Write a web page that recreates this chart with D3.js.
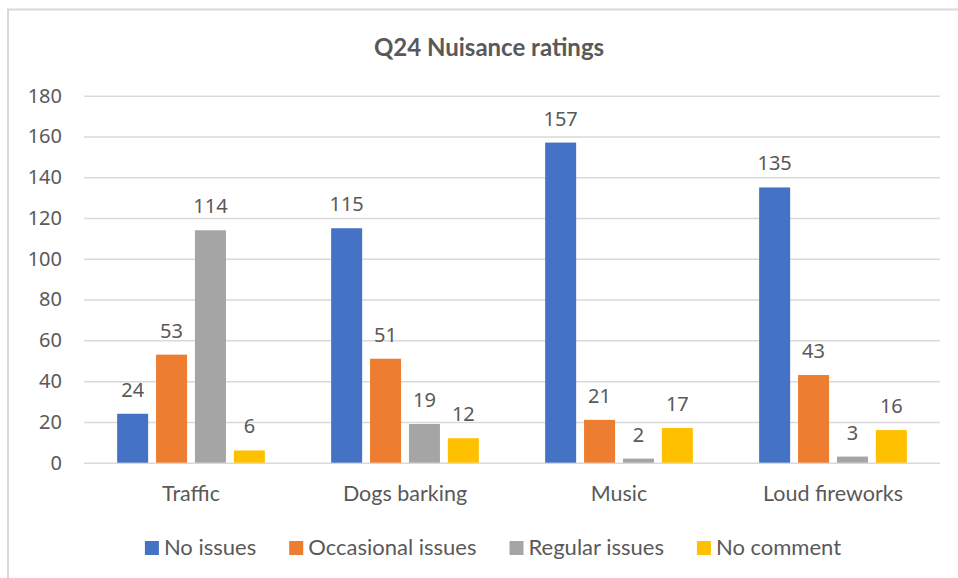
<!DOCTYPE html>
<html>
<head>
<meta charset="utf-8">
<script src="https://cdn.jsdelivr.net/npm/d3@7"></script>
<style>
	body { margin: 0; background: #fff; }
	svg { display: block; }
</style>
</head>
<body>
<div id="chart"></div>
<script>

//data
const categories = ["Traffic", "Dogs barking", "Music", "Loud fireworks"];
const seriesNames = ["No issues", "Occasional issues", "Regular issues", "No comment"];
const noIssues = [24, 115, 157, 135];
const occasionalIssues = [53, 51, 21, 43];
const regularIssues = [114, 19, 2, 3];
const noComment = [6, 12, 17, 16];
const yTicks = [0, 20, 40, 60, 80, 100, 120, 140, 160, 180];

const seriesValues = [noIssues, occasionalIssues, regularIssues, noComment];

//sizing
const width = 958;
const height = 578;
const textColor = "#595959";
const gridColor = "#d9d9d9";
const labelFont = "Lato, 'Open Sans', sans-serif";
const numberFont = "'Noto Sans', 'Open Sans', sans-serif";

let color = d3.scaleOrdinal()
	.domain(seriesNames)
	.range(["#4472c4", "#ed7d31", "#a5a5a5", "#ffc000"]);

let svg = d3.select("#chart")
	.append("svg")
	.attr("width", width)
	.attr("height", height);

//chart area frame (runs past the right and bottom edges)
svg.append("rect")
	.attr("x", 8)
	.attr("y", 9.5)
	.attr("width", 963)
	.attr("height", 600)
	.attr("fill", "none")
	.attr("stroke", gridColor)
	.attr("stroke-width", 2);

//title
svg.append("text")
	.attr("x", 489)
	.attr("y", 56)
	.attr("text-anchor", "middle")
	.attr("font-family", labelFont)
	.attr("font-weight", "bold")
	.attr("font-size", 24)
	.attr("fill", textColor)
	.text("Q24 Nuisance ratings");

//scales
let y = d3.scaleLinear()
	.domain([0, 180])
	.range([462.7, 95.7]);

let x0 = d3.scaleBand()
	.domain(categories)
	.range([84, 940]);

let x1 = d3.scaleBand()
	.domain(seriesNames)
	.range([0, x0.bandwidth()])
	.paddingInner(0.203)
	.paddingOuter(0.852);

//gridlines + tick labels
let yAxis = svg.append("g")
	.attr("transform", "translate(84,0)")
	.call(d3.axisLeft(y).tickValues(yTicks).tickSize(-(940 - 84)).tickPadding(22));

yAxis.select(".domain").remove();
yAxis.selectAll(".tick line")
	.attr("stroke", gridColor)
	.attr("stroke-width", 1.5);
yAxis.selectAll(".tick text")
	.attr("fill", textColor)
	.attr("font-family", numberFont)
	.attr("font-size", 20);

//bars
let groups = svg.append("g")
	.selectAll(".cat")
	.data(categories)
	.enter().append("g")
	.attr("class", "cat")
	.attr("transform", (d) => "translate(" + x0(d) + ",0)");

let cells = groups.selectAll(".bar")
	.data((d, i) => seriesNames.map((s, j) => ({series: s, value: seriesValues[j][i]})))
	.enter();

cells.append("rect")
	.attr("class", "bar")
	.attr("x", (d) => x1(d.series))
	.attr("y", (d) => y(d.value))
	.attr("width", x1.bandwidth())
	.attr("height", (d) => y(0) - y(d.value))
	.attr("fill", (d) => color(d.series));

//data labels
cells.append("text")
	.attr("x", (d) => x1(d.series) + x1.bandwidth() / 2)
	.attr("y", (d) => y(d.value) - 17)
	.attr("text-anchor", "middle")
	.attr("font-family", numberFont)
	.attr("font-size", 20)
	.attr("fill", textColor)
	.text((d) => d.value);

//category labels
svg.append("g")
	.selectAll("text")
	.data(categories)
	.enter().append("text")
	.attr("x", (d) => x0(d) + x0.bandwidth() / 2)
	.attr("y", 501)
	.attr("text-anchor", "middle")
	.attr("font-family", labelFont)
	.attr("font-size", 21.5)
	.attr("fill", textColor)
	.text((d) => d);

//legend, centred under the chart area
let legend = svg.append("g");

let items = legend.selectAll(".item")
	.data(seriesNames)
	.enter().append("g")
	.attr("class", "item");

items.append("rect")
	.attr("width", 14)
	.attr("height", 14)
	.attr("y", 541)
	.attr("fill", (d) => color(d));

items.append("text")
	.attr("x", 19)
	.attr("y", 555)
	.attr("font-family", labelFont)
	.attr("font-size", 22)
	.attr("fill", textColor)
	.text((d) => d);

let offset = 0;
items.each(function(){
	let w = 19 + this.querySelector("text").getComputedTextLength();
	d3.select(this).attr("transform", "translate(" + offset + ",0)");
	offset += w + 33;
});
let legendWidth = offset - 33;
legend.attr("transform", "translate(" + (493 - legendWidth / 2) + ",0)");

</script>
</body>
</html>
